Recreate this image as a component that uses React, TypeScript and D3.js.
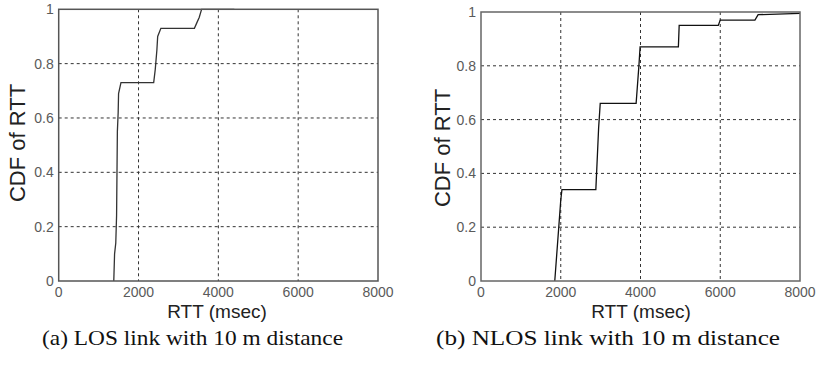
import * as d3 from "d3";

const xTicks = [0, 2000, 4000, 6000, 8000];
const yTicks = [0, 0.2, 0.4, 0.6, 0.8, 1];
const yTickLabels = ["0", "0.2", "0.4", "0.6", "0.8", "1"];

const losRtt = [1380, 1400, 1430, 1450, 1470, 1490, 1500, 1560, 2380, 2420, 2460, 2480, 2560, 3400, 3460, 3520, 3580, 4400];
const losCdf = [0, 0.1, 0.14, 0.24, 0.55, 0.62, 0.69, 0.73, 0.73, 0.78, 0.85, 0.9, 0.93, 0.93, 0.95, 0.97, 1, 1];

// (b) NLOS
const nlosRtt = [1850, 1950, 2000, 2030, 2880, 2920, 2950, 2990, 3890, 3920, 3960, 3990, 4950, 4970, 5950, 6000, 6870, 6950, 8000];
const nlosCdf = [0, 0.2, 0.3, 0.34, 0.34, 0.47, 0.57, 0.66, 0.66, 0.72, 0.8, 0.87, 0.87, 0.95, 0.95, 0.97, 0.97, 0.99, 0.995];

interface PanelProps {
  rtt: number[];
  cdf: number[];
  left: number;
  right: number;
  top: number;
  bottom: number;
  yLabelX: number;
  yLabelY: number;
  xLabelX: number;
  caption: string;
  captionX: number;
  captionW: number;
  frame: string;
  lineColor: string;
}

function Panel({ rtt, cdf, left, right, top, bottom, yLabelX, yLabelY, xLabelX, caption, captionX, captionW, frame, lineColor }: PanelProps) {
  const x = d3.scaleLinear().domain([0, 8000]).range([left, right]);
  const y = d3.scaleLinear().domain([0, 1]).range([bottom, top]);
  const pts: [number, number][] = rtt.map((r, i) => [r, cdf[i]]);
  const line = d3.line<[number, number]>().x((d) => x(d[0])).y((d) => y(d[1]));
  const font = "Arial, 'Liberation Sans', sans-serif";

  return (
    <g>
      {/* grid */}
      {xTicks.slice(1, -1).map((t) => (
        <line key={"gx" + t} x1={x(t)} x2={x(t)} y1={top} y2={bottom} stroke="#333" strokeWidth={1} strokeDasharray="3,3" />
      ))}
      {yTicks.slice(1, -1).map((t) => (
        <line key={"gy" + t} x1={left} x2={right} y1={y(t)} y2={y(t)} stroke="#333" strokeWidth={1} strokeDasharray="3,3" />
      ))}
      <path d={line(pts) ?? ""} fill="none" stroke={lineColor} strokeWidth={1.3} />
      <rect x={left} y={top} width={right - left} height={bottom - top} fill="none" stroke={frame} strokeWidth={1.5} />

      {/* tick labels */}
      {xTicks.map((t) => (
        <text key={"tx" + t} x={x(t)} y={297} textAnchor="middle" fontFamily={font} fontSize={14} fill="#5a5a5a">
          {t}
        </text>
      ))}
      {yTicks.map((t, i) => (
        <text key={"ty" + t} x={left - 5} y={y(t) + 5} textAnchor="end" fontFamily={font} fontSize={14} fill="#5a5a5a">
          {yTickLabels[i]}
        </text>
      ))}

      {/* axis labels */}
      <text x={xLabelX} y={318} textAnchor="middle" fontFamily={font} fontSize={19} fill="#222">
        RTT (msec)
      </text>
      <text transform={`translate(${yLabelX},${yLabelY}) rotate(-90)`} textAnchor="middle" fontFamily={font} fontSize={22} fill="#222">
        CDF of RTT
      </text>

      <text x={captionX} y={345} fontFamily="'Liberation Serif', 'DejaVu Serif', serif" fontSize={21} fill="#111" textLength={captionW} lengthAdjust="spacingAndGlyphs">
        {caption}
      </text>
    </g>
  );
}

export default function App() {
  return (
    <svg width={818} height={365} style={{ position: "absolute", left: 0, top: 0, background: "#fff" }}>
      <rect width={818} height={365} fill="#fff" />
      <Panel
        rtt={losRtt}
        cdf={losCdf}
        left={58.7}
        right={378}
        top={9.3}
        bottom={281}
        yLabelX={25}
        yLabelY={143}
        xLabelX={217}
        caption="(a) LOS link with 10 m distance"
        captionX={42}
        captionW={301}
        frame="#555"
        lineColor="#333"
      />
      <Panel
        rtt={nlosRtt}
        cdf={nlosCdf}
        left={481}
        right={800}
        top={12}
        bottom={281}
        yLabelX={450}
        yLabelY={148}
        xLabelX={641}
        caption="(b) NLOS link with 10 m distance"
        captionX={436}
        captionW={344}
        frame="#666"
        lineColor="#111"
      />
    </svg>
  );
}
